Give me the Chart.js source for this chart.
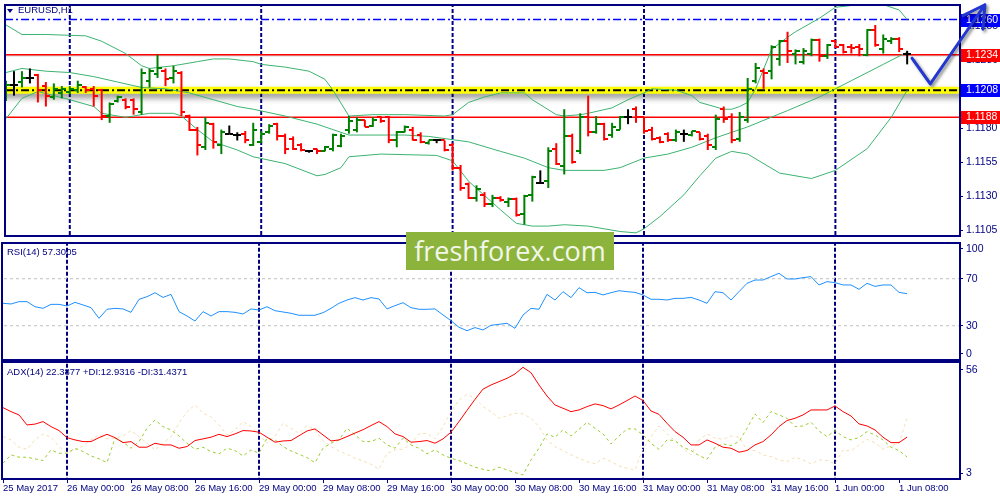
<!DOCTYPE html>
<html><head><meta charset="utf-8">
<script src="https://cdn.jsdelivr.net/npm/chart.js@4.4.1/dist/chart.umd.min.js"></script>
<style>
html,body{margin:0;padding:0;background:#fff;}
#wrap{position:relative;width:1000px;height:500px;overflow:hidden;background:#fff;font-family:'Liberation Sans',Arial,sans-serif;}
canvas{position:absolute;left:0;}
.lbl{position:absolute;font-size:9.5px;color:#000080;white-space:nowrap;line-height:12px;z-index:3;}
#tri{position:absolute;left:7px;top:9px;width:0;height:0;border-left:3px solid transparent;border-right:3px solid transparent;border-top:4px solid #000080;z-index:3;}
#wm{position:absolute;left:406px;top:232px;width:208px;height:38px;background:#8cb43c;color:#f3f7ea;font-family:'Open Sans',sans-serif;font-size:27px;line-height:38px;text-align:center;z-index:5;}
</style></head><body>
<div id="wrap">
<canvas id="cMain" width="1000" height="241" style="top:0;width:1000px;height:241px"></canvas>
<canvas id="cRsi" width="1000" height="120" style="top:241px;width:1000px;height:120px"></canvas>
<canvas id="cAdx" width="1000" height="139" style="top:361px;width:1000px;height:139px"></canvas>
<div id="tri"></div>
<div class="lbl" style="left:18px;top:4px">EURUSD,H1</div>
<div class="lbl" style="left:7px;top:246px">RSI(14) 57.3005</div>
<div class="lbl" style="left:7px;top:366px">ADX(14) 22.3877 +DI:12.9316 -DI:31.4371</div>
<div id="wm">freshforex.com</div>
</div>
<script>
// ---------- DATA ----------
const timeLabels = ['25 May 2017','26 May 00:00','26 May 08:00','26 May 16:00','29 May 00:00','29 May 08:00','29 May 16:00','30 May 00:00','30 May 08:00','30 May 16:00','31 May 00:00','31 May 08:00','31 May 16:00','1 Jun 00:00','1 Jun 08:00'];
const timeTickIdx = [0,8,16,24,32,40,48,56,64,72,80,88,96,104,112];
const daySeparators = [8,32,56,80,104];

const barOpen = [1.1204,1.1212,1.1214,1.1217,1.1219,1.1211,1.1203,1.1206,1.1207,1.1208,
 1.1210,1.1209,1.1208,1.1189,1.1200,1.1201,1.1201,1.1192,1.1215,1.1220,
 1.1222,1.1217,1.1221,1.1189,1.1179,1.1166,1.1183,1.1168,1.1176,1.1175,
 1.1176,1.1168,1.1170,1.1177,1.1183,1.1174,1.1172,1.1168,1.1163,1.1165,
 1.1163,1.1165,1.1167,1.1179,1.1179,1.1186,1.1182,1.1188,1.1188,1.1171,
 1.1177,1.1179,1.1175,1.1169,1.1171,1.1171,1.1168,1.1151,1.1139,1.1129,
 1.1131,1.1124,1.1129,1.1126,1.1128,1.1117,1.1131,1.1140,1.1141,1.1165,
 1.1152,1.1174,1.1163,1.1188,1.1177,1.1183,1.1175,1.1179,1.1188,1.1194,
 1.1188,1.1179,1.1173,1.1176,1.1171,1.1176,1.1175,1.1177,1.1174,1.1166,
 1.1194,1.1188,1.1172,1.1186,1.1215,1.1222,1.1222,1.1231,1.1244,1.1235,
 1.1229,1.1235,1.1245,1.1233,1.1244,1.1241,1.1240,1.1240,1.1234,1.1252,
 1.1238,1.1244,1.1246,1.1235];
const barHigh = [1.1215,1.1222,1.1222,1.1224,1.1220,1.1214,1.1213,1.1211,1.1211,1.1215,
 1.1211,1.1211,1.1209,1.1199,1.1204,1.1202,1.1202,1.1224,1.1224,1.1234,
 1.1224,1.1226,1.1222,1.1190,1.1181,1.1188,1.1184,1.1179,1.1182,1.1177,
 1.1178,1.1184,1.1178,1.1183,1.1184,1.1176,1.1174,1.1169,1.1164,1.1165,
 1.1167,1.1176,1.1176,1.1189,1.1188,1.1186,1.1188,1.1189,1.1189,1.1178,
 1.1182,1.1181,1.1177,1.1171,1.1172,1.1171,1.1169,1.1153,1.1140,1.1138,
 1.1133,1.1131,1.1130,1.1129,1.1129,1.1131,1.1145,1.1149,1.1166,1.1169,
 1.1194,1.1176,1.1191,1.1204,1.1189,1.1184,1.1184,1.1189,1.1194,1.1196,
 1.1188,1.1181,1.1174,1.1177,1.1179,1.1179,1.1178,1.1177,1.1176,1.1190,
 1.1196,1.1191,1.1192,1.1217,1.1228,1.1224,1.1241,1.1245,1.1251,1.1238,
 1.1239,1.1246,1.1246,1.1242,1.1245,1.1242,1.1242,1.1242,1.1253,1.1256,
 1.1249,1.1247,1.1247,1.1237];
const barLow = [1.1200,1.1204,1.1210,1.1213,1.1199,1.1196,1.1201,1.1202,1.1205,1.1206,
 1.1206,1.1196,1.1186,1.1184,1.1199,1.1194,1.1190,1.1190,1.1210,1.1217,
 1.1211,1.1213,1.1189,1.1178,1.1160,1.1164,1.1165,1.1161,1.1176,1.1171,
 1.1169,1.1167,1.1169,1.1176,1.1171,1.1161,1.1164,1.1163,1.1162,1.1161,
 1.1163,1.1163,1.1166,1.1176,1.1177,1.1181,1.1181,1.1184,1.1169,1.1166,
 1.1177,1.1171,1.1169,1.1168,1.1169,1.1163,1.1149,1.1134,1.1128,1.1126,
 1.1122,1.1122,1.1126,1.1122,1.1115,1.1109,1.1126,1.1139,1.1136,1.1153,
 1.1146,1.1154,1.1161,1.1174,1.1176,1.1171,1.1173,1.1179,1.1183,1.1184,
 1.1176,1.1171,1.1169,1.1170,1.1170,1.1170,1.1174,1.1171,1.1164,1.1164,
 1.1184,1.1169,1.1170,1.1184,1.1213,1.1209,1.1216,1.1226,1.1228,1.1227,
 1.1227,1.1233,1.1229,1.1231,1.1239,1.1235,1.1235,1.1233,1.1233,1.1240,
 1.1235,1.1242,1.1236,1.1227];
const barClose = [1.1212,1.1212,1.1217,1.1217,1.1208,1.1204,1.1209,1.1209,1.1209,1.1212,
 1.1208,1.1204,1.1189,1.1198,1.1203,1.1196,1.1194,1.1221,1.1222,1.1224,
 1.1216,1.1222,1.1192,1.1179,1.1168,1.1184,1.1170,1.1177,1.1176,1.1175,
 1.1171,1.1179,1.1176,1.1182,1.1174,1.1165,1.1165,1.1164,1.1163,1.1163,
 1.1166,1.1175,1.1174,1.1185,1.1186,1.1181,1.1186,1.1185,1.1171,1.1177,
 1.1181,1.1171,1.1170,1.1171,1.1171,1.1164,1.1151,1.1136,1.1129,1.1135,
 1.1124,1.1129,1.1127,1.1128,1.1116,1.1130,1.1144,1.1140,1.1163,1.1154,
 1.1174,1.1155,1.1188,1.1177,1.1183,1.1172,1.1181,1.1188,1.1188,1.1188,
 1.1178,1.1172,1.1170,1.1171,1.1177,1.1176,1.1178,1.1172,1.1168,1.1187,
 1.1187,1.1171,1.1188,1.1209,1.1224,1.1221,1.1240,1.1244,1.1237,1.1237,
 1.1237,1.1245,1.1233,1.1241,1.1240,1.1236,1.1239,1.1238,1.1252,1.1241,
 1.1246,1.1246,1.1238,1.1235];

// Bollinger bands, read as [bar index, price]
const bbUpper = [[0,1.1256],[2,1.1249],[5,1.1249],[10,1.1248],[12,1.1244],[15,1.1235],[17,1.1226],[18,1.1224],[21,1.1226],[24,1.1229],[26,1.1231],[28,1.1231],[31,1.1229],[32,1.1227],[35,1.1225],[38,1.1222],[40,1.1216],[41,1.1208],[43,1.1189],[46,1.1190],[50,1.1190],[55,1.1189],[56,1.1190],[58,1.1199],[60,1.1203],[62,1.1206],[65,1.1206],[66,1.1201],[69,1.1190],[70,1.1189],[72,1.1190],[73,1.1191],[76,1.1195],[78,1.1201],[80,1.1206],[81,1.1209],[84,1.1208],[86,1.1204],[87,1.1199],[90,1.1194],[91,1.1194],[92,1.1196],[93,1.1199],[94,1.1209],[96,1.1238],[98,1.1247],[99,1.1251],[102,1.1261],[104,1.1269],[107,1.1271],[110,1.1271],[112,1.1267],[113,1.1260]];
const bbMiddle = [[0,1.1221],[2,1.1224],[5,1.1222],[8,1.1221],[11,1.1218],[14,1.1214],[17,1.1210],[20,1.1209],[23,1.1206],[26,1.1201],[29,1.1196],[31,1.1194],[35,1.1189],[39,1.1183],[40,1.1181],[43,1.1175],[50,1.1175],[53,1.1174],[58,1.1170],[62,1.1163],[65,1.1158],[68,1.1151],[70,1.1149],[75,1.1149],[77,1.1151],[80,1.1158],[83,1.1161],[86,1.1166],[89,1.1173],[91,1.1177],[93,1.1181],[98,1.1193],[102,1.1203],[106,1.1215],[110,1.1227],[113,1.1236]];
const bbLower = [[0,1.1187],[2,1.1202],[4,1.1207],[8,1.1201],[11,1.1196],[12,1.1191],[15,1.1188],[16,1.1189],[18,1.1191],[21,1.1191],[22,1.1189],[24,1.1179],[26,1.1170],[29,1.1164],[31,1.1159],[35,1.1154],[39,1.1145],[40,1.1146],[42,1.1151],[43,1.1159],[47,1.1161],[54,1.1160],[56,1.1156],[58,1.1141],[62,1.1120],[64,1.1110],[66,1.1108],[68,1.1108],[70,1.1109],[73,1.1108],[77,1.1104],[79,1.1103],[80,1.1106],[82,1.1115],[85,1.1131],[87,1.1145],[89,1.1158],[91,1.1163],[93,1.1161],[97,1.1147],[101,1.1143],[104,1.1149],[108,1.1165],[111,1.1188],[113,1.1208]];

const rsiValues = [49.1,48.5,50.5,50.5,46.2,44.8,48.2,48.2,46.8,49.9,47.7,45.4,36.3,44.0,44.8,44.3,41.4,52.5,54.7,58.1,
 54.1,56.7,42.0,38.3,34.0,42.0,38.3,42.0,42.0,41.4,40.0,44.3,43.4,46.2,42.8,41.7,40.6,38.9,38.9,38.9,
 41.1,44.8,49.1,51.9,53.9,51.9,53.9,52.8,44.3,47.1,49.6,45.4,44.0,44.0,44.3,39.2,34.3,28.7,25.8,28.4,
 26.4,30.4,31.2,32.1,27.8,39.1,44.8,44.0,56.7,51.9,59.0,53.9,62.4,58.1,58.4,56.2,58.1,59.8,59.0,58.4,
 56.2,52.5,52.5,51.9,53.3,53.3,54.1,51.9,49.1,59.0,58.1,51.9,59.0,66.1,68.9,68.9,71.8,74.6,69.8,69.8,
 70.9,71.8,64.7,67.5,66.7,64.7,64.7,61.0,66.1,63.5,64.7,64.7,58.4,57.3];
const rsiLevels = [70,30];

const adxMain = [36.6,34.7,33.1,28.3,28.7,29.9,27.5,25.6,22.2,21.1,20.3,20.3,22.2,23.8,22.2,19.8,20.3,17.6,17.6,19.5,
 18.7,18.7,17.1,17.9,20.8,21.6,22.4,23.8,22.7,24.0,25.6,25.4,24.8,22.4,20.0,20.6,20.8,23.1,25.4,26.4,
 23.5,20.6,21.1,22.7,24.4,26.0,28.0,29.9,27.5,24.0,22.7,20.0,20.3,20.8,19.5,21.6,24.8,29.9,35.3,40.6,
 45.5,47.5,49.1,50.7,52.8,56.0,53.4,47.5,42.2,37.9,36.3,34.7,35.5,37.1,38.4,37.6,36.0,37.9,40.0,42.2,
 40.0,35.0,33.4,29.1,25.1,22.4,18.7,18.7,21.1,19.5,17.6,17.1,15.2,16.0,18.7,20.3,23.5,27.5,30.4,31.5,
 33.1,35.5,35.5,35.5,37.4,34.7,32.6,28.8,27.8,25.9,22.4,19.8,19.8,22.4];
const adxPlusDI = [9.9,13.9,12.8,12.8,12.0,11.2,16.3,14.7,14.7,17.1,15.5,13.4,12.0,10.2,21.9,20.0,17.1,20.3,26.7,30.7,
 27.5,25.9,23.0,19.5,16.6,17.6,15.5,14.4,17.1,16.0,13.4,16.3,14.7,21.9,21.1,17.9,15.8,14.2,12.6,10.2,
 17.1,19.5,21.1,26.7,23.5,20.3,20.3,21.9,18.7,17.1,21.9,18.7,17.1,14.4,16.3,13.9,12.3,11.2,9.6,8.0,
 7.0,6.2,8.0,6.7,5.4,4.3,11.5,17.1,24.0,22.4,25.9,23.0,26.2,29.6,26.7,24.0,19.2,23.0,26.4,26.4,
 23.5,19.5,16.6,21.1,20.8,17.6,16.0,13.6,11.8,17.6,19.2,18.4,20.3,26.7,33.6,29.4,34.7,33.1,31.5,27.5,
 27.8,29.6,25.4,22.7,25.6,22.7,21.1,22.2,25.1,23.5,21.1,17.6,16.0,12.9];
const adxMinusDI = [22.7,21.1,17.6,16.6,21.1,24.0,22.4,17.9,14.7,16.3,18.2,21.1,23.5,21.6,21.9,23.0,25.6,22.7,19.5,16.3,
 19.5,22.7,29.1,34.7,37.9,33.9,32.3,28.3,23.5,25.9,29.9,27.5,23.5,19.5,22.7,29.1,26.7,24.3,28.0,25.9,
 20.8,17.9,15.8,14.2,12.3,11.0,9.4,7.0,14.7,16.3,16.6,19.2,24.0,24.3,21.6,27.5,34.7,40.3,43.0,41.1,
 37.1,34.7,31.5,32.6,33.9,33.6,31.5,27.5,21.1,17.9,16.0,13.9,12.3,10.7,9.6,12.3,10.7,8.6,7.5,6.7,
 17.1,22.7,27.8,24.0,20.8,17.1,13.9,21.1,24.0,21.9,21.4,23.0,22.4,16.3,16.0,13.9,13.1,11.5,10.7,12.8,
 11.5,9.6,11.5,11.2,9.6,16.3,15.8,18.7,21.4,19.8,16.6,18.2,19.5,31.4];

// horizontal levels drawn on the price chart
const levelBlue = 1.1260, levelRedTop = 1.1234, levelYellow = 1.1208, levelRedBottom = 1.1188, bidPrice = 1.12333;
const priceBoxes = [[1.1260,'#0000ff'],[1.1234,'#ff0000'],[1.1208,'#0000ff'],[1.1188,'#ff0000']];
const priceTicks = [1.1255,1.1230,1.1205,1.1180,1.1155,1.1130,1.1105];
const rsiTickVals = [95.3,70,30,6.0], rsiTickText = ['100','70','30','0'];
const adxTickVals = [54.7,5.2], adxTickText = ['56','3'];
// hand-drawn forecast arrow, in [bar index, price]
const arrowPath = [[113.6,1.12316],[115.9,1.12126],[122.75,1.12709]];
const arrowBarbs = [[120.0,1.12629],[122.5,1.12529]];

// axis bounds
const X_MIN = -0.125, X_MAX = 119.625;
const P_MIN = 1.11007, P_MAX = 1.12707;
const R_MIN = 0.85, R_MAX = 100.4;
const A_MIN = 2.32, A_MAX = 58.54;

// ---------- STYLE ----------
const NAVY = '#000080';
const FAM = "'Liberation Sans', Arial, sans-serif";
Chart.defaults.font.family = FAM;
const AXIS_FONT = {family: FAM, size: 10.5};
const TIME_FONT = {family: FAM, size: 9.5};
const UP = '#008000', DOWN = '#ff0000', DOJI = '#000000';

const barColors = barClose.map((c,i) => c > barOpen[i] ? UP : (c < barOpen[i] ? DOWN : DOJI));
function tickImg(color, left) {
  const c = document.createElement('canvas'); c.width = 8; c.height = 2;
  const g = c.getContext('2d'); g.fillStyle = color; g.fillRect(left ? 0 : 4, 0, 4, 2); return c;
}
const tickImgs = {};
[UP, DOWN, DOJI].forEach(col => { tickImgs[col] = {L: tickImg(col, true), R: tickImg(col, false)}; });

const framePlugin = {
  id: 'frame',
  afterDraw(chart) {
    const a = chart.chartArea, c = chart.ctx;
    c.save(); c.strokeStyle = NAVY; c.lineWidth = 2;
    c.strokeRect(a.left, a.top, a.right - a.left, a.bottom - a.top);
    c.restore();
  }
};
const shadowPlugin = {
  id: 'dsShadow',
  beforeDatasetDraw(chart, args) {
    const ds = chart.data.datasets[args.index];
    if (ds.shadow) { const c = chart.ctx; c.save(); c.shadowColor = ds.shadow[0]; c.shadowBlur = ds.shadow[1]; c.shadowOffsetX = ds.shadow[2]; c.shadowOffsetY = ds.shadow[3]; }
  },
  afterDatasetDraw(chart, args) {
    const ds = chart.data.datasets[args.index];
    if (ds.shadow) chart.ctx.restore();
  }
};
const overlayPlugin = {
  id: 'overlay',
  afterDraw(chart) {
    const c = chart.ctx, xs = chart.scales.x, ys = chart.scales.y;
    c.save();
    priceBoxes.forEach(([p, col]) => {
      const y = Math.round(ys.getPixelForValue(p));
      c.fillStyle = col; c.fillRect(961, y - 6, 39, 13);
      c.fillStyle = '#ffffff'; c.font = '10.5px ' + FAM; c.textBaseline = 'middle'; c.textAlign = 'left';
      c.fillText(p.toFixed(4), 966, y + 0.5);
    });
    const P = arrowPath.map(([k, p]) => [xs.getPixelForValue(k), ys.getPixelForValue(p)]);
    const B = arrowBarbs.map(([k, p]) => [xs.getPixelForValue(k), ys.getPixelForValue(p)]);
    c.strokeStyle = '#2236d0'; c.lineWidth = 3; c.lineJoin = 'round'; c.lineCap = 'round';
    c.shadowColor = 'rgba(0,0,0,0.45)'; c.shadowBlur = 3; c.shadowOffsetX = 2; c.shadowOffsetY = 2;
    c.beginPath(); c.moveTo(P[0][0], P[0][1]); P.slice(1).forEach(q => c.lineTo(q[0], q[1]));
    const tip = P[P.length - 1];
    B.forEach(b => { c.moveTo(b[0], b[1]); c.lineTo(tip[0], tip[1]); });
    c.stroke();
    c.restore();
  }
};

function hline(v, color, width, dash, order, extra) {
  return Object.assign({type: 'line', data: [{x: X_MIN - 2, y: v}, {x: X_MAX + 2, y: v}], borderColor: color, borderWidth: width,
    borderDash: dash || [], pointRadius: 0, order: order, clip: 0}, extra || {});
}
function separators(min, max) {
  return daySeparators.map(s => ({type: 'line', data: [{x: s, y: min - 10}, {x: s, y: max + 10}], borderColor: NAVY, borderWidth: 2,
    borderDash: [4, 2], pointRadius: 0, order: 8}));
}
function yAxis(min, max, vals, texts) {
  return {
    type: 'linear', position: 'right', min: min, max: max,
    afterBuildTicks: ax => { ax.ticks = vals.map(v => ({value: v})); },
    afterFit: ax => { ax.width = 40; ax.paddingTop = 0; ax.paddingBottom = 0; },
    grid: {display: true, drawOnChartArea: false, drawTicks: true, tickLength: 3, color: NAVY, lineWidth: 1},
    border: {display: false},
    ticks: {color: NAVY, font: AXIS_FONT, padding: 3, autoSkip: false,
      callback: (v, i) => texts ? texts[i] : Number(v).toFixed(4)}
  };
}
const hiddenX = {type: 'linear', min: X_MIN, max: X_MAX, display: false, offset: false, grid: {offset: false}};
const common = {responsive: false, animation: false, events: [], plugins: {legend: {display: false}, tooltip: {enabled: false}}};
const pts = arr => arr.map((v, i) => ({x: i, y: v}));
const pairs = arr => arr.map(([k, v]) => ({x: k, y: v}));

// ---------- PRICE CHART ----------
new Chart(document.getElementById('cMain'), {
  type: 'bar',
  data: {datasets: [
    {type: 'bar', data: barHigh.map((h, i) => ({x: i, y: [barLow[i], h]})), backgroundColor: barColors,
      barThickness: 2, inflateAmount: 0, borderWidth: 0, grouped: false, order: 0},
    {type: 'line', data: pts(barOpen), showLine: false, pointRadius: 1, order: 0,
      pointStyle: ctx => tickImgs[barColors[ctx.dataIndex]].L},
    {type: 'line', data: pts(barClose), showLine: false, pointRadius: 1, order: 0,
      pointStyle: ctx => tickImgs[barColors[ctx.dataIndex]].R},
    {type: 'line', data: pairs(bbUpper), borderColor: '#3cb371', borderWidth: 1, pointRadius: 0, order: 1},
    {type: 'line', data: pairs(bbMiddle), borderColor: '#3cb371', borderWidth: 1, pointRadius: 0, order: 1},
    {type: 'line', data: pairs(bbLower), borderColor: '#3cb371', borderWidth: 1, pointRadius: 0, order: 1},
    hline(levelBlue, '#0000ff', 1.5, [8, 3, 2, 3], 5),
    hline(bidPrice, '#c0c0c0', 1, [], 6),
    hline(levelRedTop, '#ff0000', 1.5, [], 5),
    hline(levelYellow, '#000000', 2, [8, 3, 2, 3], 4),
    hline(levelYellow, '#ffff00', 7, [], 6, {shadow: ['rgba(0,0,0,0.45)', 6, 0, 4]}),
    hline(levelRedBottom, '#ff0000', 1.5, [], 5),
    ...separators(P_MIN, P_MAX)
  ]},
  options: Object.assign({}, common, {
    layout: {padding: {left: 2, right: 0, top: 2, bottom: 1}},
    scales: {x: hiddenX, y: yAxis(P_MIN, P_MAX, priceTicks, null)}
  }),
  plugins: [shadowPlugin, framePlugin, overlayPlugin]
});

// ---------- RSI ----------
new Chart(document.getElementById('cRsi'), {
  type: 'line',
  data: {datasets: [
    {data: pts(rsiValues), borderColor: '#1e90ff', borderWidth: 1, pointRadius: 0, order: 1},
    ...rsiLevels.map(l => hline(l, '#c0c0c0', 1, [3, 3], 6)),
    ...separators(R_MIN, R_MAX)
  ]},
  options: Object.assign({}, common, {
    layout: {padding: {left: 2, right: 0, top: 2, bottom: 1}},
    scales: {x: hiddenX, y: yAxis(R_MIN, R_MAX, rsiTickVals, rsiTickText)}
  }),
  plugins: [framePlugin]
});

// ---------- ADX ----------
new Chart(document.getElementById('cAdx'), {
  type: 'line',
  data: {datasets: [
    {data: pts(adxMain), borderColor: '#ff0000', borderWidth: 1, pointRadius: 0, order: 1},
    {data: pts(adxPlusDI), borderColor: '#9acd32', borderWidth: 1, borderDash: [3, 3], pointRadius: 0, order: 2},
    {data: pts(adxMinusDI), borderColor: '#f5deb3', borderWidth: 1, borderDash: [3, 3], pointRadius: 0, order: 3},
    ...separators(A_MIN, A_MAX)
  ]},
  options: Object.assign({}, common, {
    layout: {padding: {left: 2, right: 0, top: 1, bottom: 0}},
    scales: {
      x: {type: 'linear', min: X_MIN, max: X_MAX, offset: false,
        afterBuildTicks: ax => { ax.ticks = timeTickIdx.map(v => ({value: v})); },
        afterFit: ax => { ax.height = 21; ax.paddingLeft = 0; ax.paddingRight = 0; },
        grid: {display: true, drawOnChartArea: false, drawTicks: true, tickLength: 4, color: NAVY, offset: false},
        border: {display: false},
        ticks: {color: NAVY, font: TIME_FONT, padding: 0, align: 'start', maxRotation: 0, minRotation: 0, autoSkip: false,
          callback: (v, i) => timeLabels[i]}},
      y: yAxis(A_MIN, A_MAX, adxTickVals, adxTickText)
    }
  }),
  plugins: [framePlugin]
});
</script>
</body></html>
